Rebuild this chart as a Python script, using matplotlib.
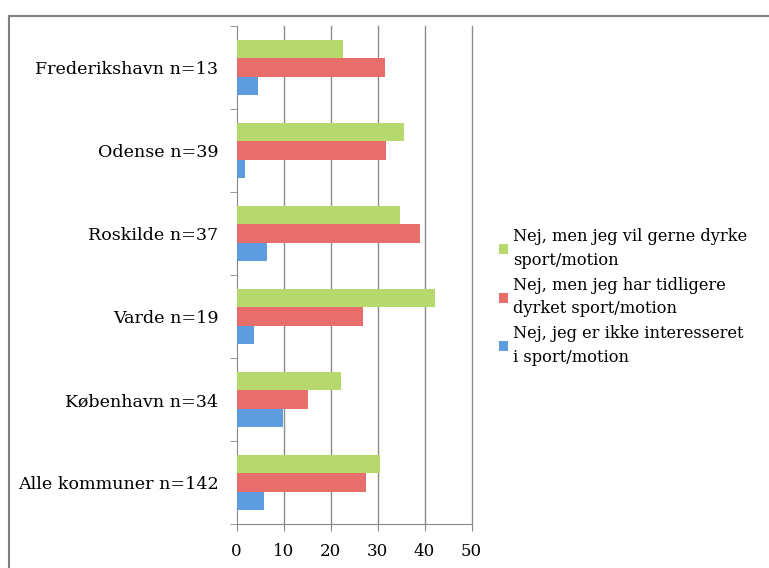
import matplotlib.pyplot as plt
from matplotlib.lines import Line2D
import numpy as np

# categories, top to bottom as drawn
kommuner = ["Frederikshavn n=13", "Odense n=39", "Roskilde n=37",
            "Varde n=19", "København n=34", "Alle kommuner n=142"]

vil_gerne = [22.7, 35.7, 34.8, 42.3, 22.2, 30.5]
tidligere = [31.6, 31.9, 39.1, 26.9, 15.2, 27.5]
ikke_interesseret = [4.5, 1.8, 6.4, 3.8, 9.8, 5.9]

serie_labels = ["Nej, men jeg vil gerne dyrke\nsport/motion",
                "Nej, men jeg har tidligere\ndyrket sport/motion",
                "Nej, jeg er ikke interesseret\ni sport/motion"]
colors = ["#b6d86c", "#e86e6c", "#5e9ce0"]
xticks = [0, 10, 20, 30, 40, 50]

plt.rcParams['font.family'] = ['DejaVu Serif']

fig = plt.figure(figsize=(7.69, 5.68), dpi=100)
ax = fig.add_axes([236.5 / 769, 44 / 568, (471.5 - 236.5) / 769, (524 - 26) / 568])

n = len(kommuner)
y = np.arange(n)[::-1]  # first category on top
h = 0.22
ax.barh(y + h, vil_gerne, height=h, color=colors[0], label=serie_labels[0], zorder=3)
ax.barh(y, tidligere, height=h, color=colors[1], label=serie_labels[1], zorder=3)
ax.barh(y - h, ikke_interesseret, height=h, color=colors[2], label=serie_labels[2], zorder=3)

ax.set_xlim(0, 50)
ax.set_ylim(-0.5, n - 0.5)
ax.set_xticks(xticks)
ax.set_xticklabels([str(t) for t in xticks], fontsize=12)
ax.set_yticks(y)
ax.set_yticklabels(kommuner, fontsize=12.6)
ax.set_yticks(np.arange(n + 1) - 0.5, minor=True)
ax.tick_params(axis='y', which='major', length=0, pad=13)
ax.tick_params(axis='y', which='minor', length=5, color='#888888', direction='out')
ax.tick_params(axis='x', length=5, color='#888888', direction='out', pad=9)

for t in xticks[1:]:
    ax.axvline(t, color='#8c8c8c', linewidth=1.0, zorder=0, clip_on=False)
for s in ['top', 'right']:
    ax.spines[s].set_visible(False)
for s in ['left', 'bottom']:
    ax.spines[s].set_color('#888888')

handles, labels = ax.get_legend_handles_labels()
leg = fig.legend(handles, labels, loc='center left', bbox_to_anchor=(494 / 769, 1 - 297 / 568),
                 frameon=False, fontsize=11.7, handlelength=0.55, handleheight=0.55,
                 handletextpad=0.3, labelspacing=0.5, borderaxespad=0, borderpad=0.3)
for txt in leg.get_texts():
    txt.set_linespacing(1.5)

# outer frame (top and left edges visible)
fig.add_artist(Line2D([9 / 769, 1.0], [1 - 15.5 / 568] * 2, transform=fig.transFigure,
                      color='#808080', linewidth=1.5))
fig.add_artist(Line2D([9 / 769] * 2, [0, 1 - 15.5 / 568], transform=fig.transFigure,
                      color='#808080', linewidth=1.5))

fig.savefig("out.png", dpi=100)
